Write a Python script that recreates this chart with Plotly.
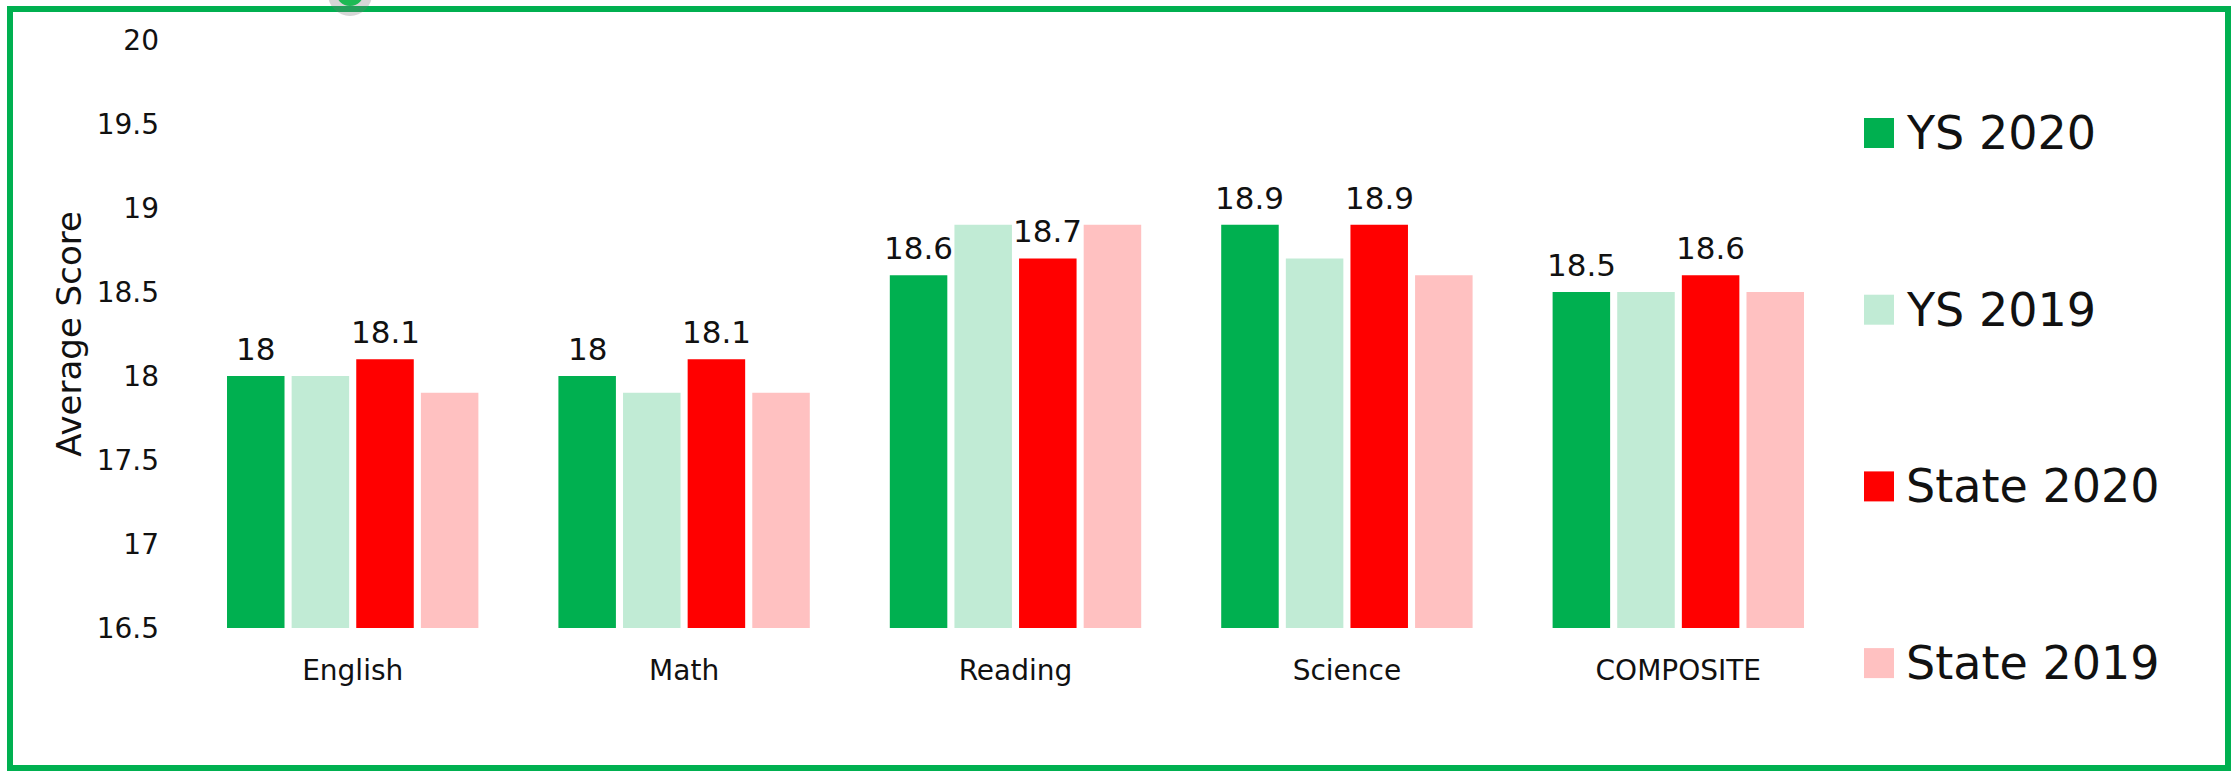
import plotly.graph_objects as go

# ---------------- data ----------------
categories = ["English", "Math", "Reading", "Science", "COMPOSITE"]
series_names = ["YS 2020", "YS 2019", "State 2020", "State 2019"]
ys_2020 = [18.0, 18.0, 18.6, 18.9, 18.5]
ys_2019 = [18.0, 17.9, 18.9, 18.7, 18.5]
state_2020 = [18.1, 18.1, 18.7, 18.9, 18.6]
state_2019 = [17.9, 17.9, 18.9, 18.6, 18.5]
y_ticks = [16.5, 17, 17.5, 18, 18.5, 19, 19.5, 20]
y_title = "Average Score"

series_values = [ys_2020, ys_2019, state_2020, state_2019]
series_colors = ["#00B050", "#C1EBD5", "#FF0000", "#FFC1C1"]
show_labels = [True, False, True, False]

# ---------------- layout geometry ----------------
W, H = 2239, 771
L, R, T, B = 187, 395, 40, 143
plot_w = W - L - R
plot_h = H - T - B
FONT = "DejaVu Sans"
GREEN = "#00B050"
BARGAP, BARGROUPGAP = 0.22, 0.11


def px(x):
    return (x - L) / plot_w


def py(y):
    return (H - B - y) / plot_h


fig = go.Figure()
for name, vals, col in zip(series_names, series_values, series_colors):
    fig.add_trace(go.Bar(
        name=name,
        x=categories,
        y=vals,
        marker=dict(color=col, line=dict(width=0)),
        showlegend=False,
    ))

annotations = []
# value labels above the labelled series (positioned on the axes' own scales)
n_series = len(series_names)
slot = (1 - BARGAP) / n_series
for i, (vals, lab) in enumerate(zip(series_values, show_labels)):
    if not lab:
        continue
    off = (i + 0.5) * slot - (1 - BARGAP) / 2
    for j, v in enumerate(vals):
        annotations.append(dict(text=f"{v:g}", xref="x", yref="y",
                                x=j + off, y=v, xanchor="center", yanchor="bottom",
                                yshift=7, showarrow=False,
                                font=dict(family=FONT, size=31, color="#111111")))

# ---------------- manual legend (large squares) ----------------
shapes = []
leg_y0, leg_step = 133, 176.7
for i, (name, col) in enumerate(zip(series_names, series_colors)):
    cy = leg_y0 + i * leg_step
    shapes.append(dict(type="rect", xref="paper", yref="paper",
                       x0=px(1864), x1=px(1894), y0=py(cy - 15), y1=py(cy + 15),
                       fillcolor=col, line=dict(width=0)))
    annotations.append(dict(text=name, xref="paper", yref="paper",
                            x=px(1904), y=py(cy), xanchor="left", yanchor="middle",
                            showarrow=False,
                            font=dict(family=FONT, size=46, color="#111111")))

# outer green frame
shapes.append(dict(type="rect", xref="paper", yref="paper",
                   x0=px(10), x1=px(2228), y0=py(768), y1=py(9),
                   line=dict(color=GREEN, width=6), fillcolor="rgba(0,0,0,0)",
                   layer="above"))
# small decorative circle at the top edge (with soft shadow)
shapes.append(dict(type="circle", xref="paper", yref="paper",
                   x0=px(328), x1=px(372), y0=py(16), y1=py(-28),
                   fillcolor="rgba(120,120,120,0.3)", line=dict(width=0), layer="above"))
shapes.append(dict(type="circle", xref="paper", yref="paper",
                   x0=px(336), x1=px(364), y0=py(6), y1=py(-22),
                   fillcolor="#1DB954", line=dict(width=0), layer="above"))

fig.update_layout(
    width=W, height=H,
    margin=dict(l=L, r=R, t=T, b=B, pad=0),
    paper_bgcolor="white", plot_bgcolor="white",
    barmode="group", bargap=BARGAP, bargroupgap=BARGROUPGAP,
    font=dict(family=FONT, color="#111111"),
    shapes=shapes, annotations=annotations,
    showlegend=False,
    xaxis=dict(showgrid=False, zeroline=False, showline=False, ticks="",
               tickfont=dict(family=FONT, size=28, color="#111111"),
               ticklabelstandoff=23),
    yaxis=dict(range=[16.5, 20], tickvals=y_ticks, ticktext=[f"{v:g}" for v in y_ticks],
               showgrid=False, zeroline=False, showline=False, ticks="",
               tickfont=dict(family=FONT, size=28, color="#111111"),
               ticklabelstandoff=27,
               title=dict(text=y_title, standoff=4,
                          font=dict(family=FONT, size=34, color="#111111"))),
)

fig.write_html("out.html", config={"displayModeBar": False},
               post_script="document.body.style.margin='0px';document.body.style.overflow='hidden';")
